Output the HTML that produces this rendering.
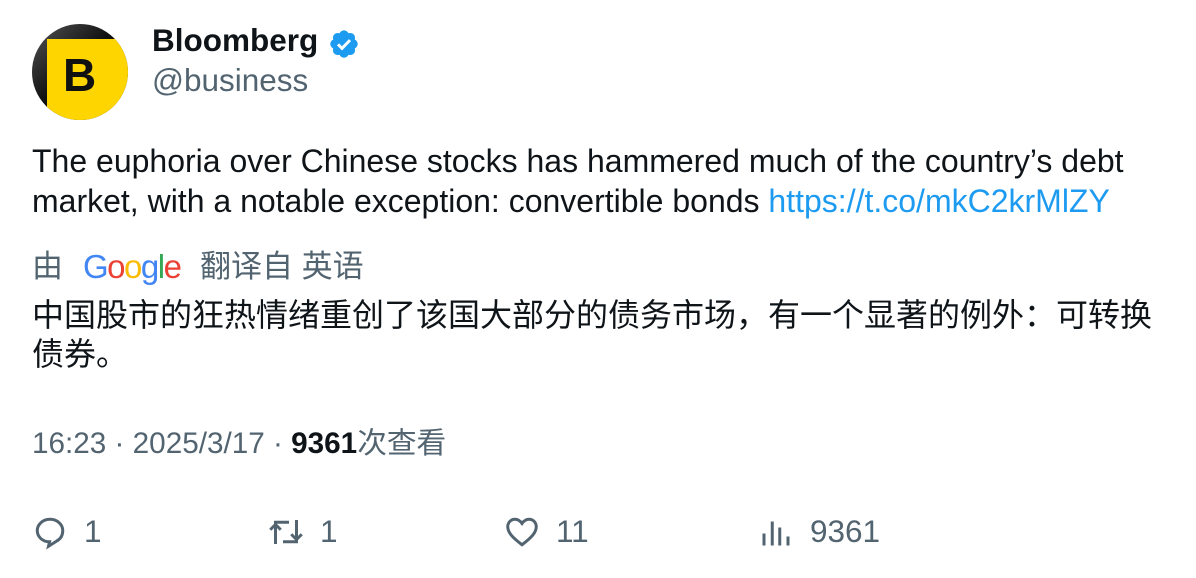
<!DOCTYPE html>
<html><head><meta charset="utf-8"><style>
body{margin:0;width:1196px;height:578px;background:#fff;font-family:"Liberation Sans","Noto Sans CJK SC",sans-serif;color:#0f1419;position:relative;overflow:hidden}
.a{position:absolute;white-space:nowrap}
.g{color:#536471}
</style></head><body>
<div class="a" style="left:32px;top:24px;width:96px;height:96px;border-radius:50%;overflow:hidden;background:linear-gradient(135deg,#555,#111 45%)">
<div style="position:absolute;left:15px;top:15px;width:90px;height:90px;background:#ffd500"></div>
<div style="position:absolute;left:31px;top:24px;font:bold 46px 'Liberation Sans',sans-serif;color:#111">B</div>
</div>
<div class="a" style="left:152px;top:22px;font-size:31.5px;font-weight:bold">Bloomberg</div>
<svg class="a" style="left:328px;top:28px" width="32" height="32" viewBox="0 0 24 24"><path fill="#1d9bf0" d="M22.25 12c0-1.430-.88-2.67-2.19-3.34.46-1.39.2-2.9-.81-3.91s-2.52-1.27-3.91-.81c-.66-1.31-1.910-2.19-3.34-2.19s-2.67.88-3.33 2.19c-1.4-.46-2.91-.2-3.92.81s-1.26 2.52-.8 3.91c-1.31.67-2.2 1.91-2.2 3.34s.89 2.67 2.2 3.34c-.46 1.39-.21 2.9.8 3.91s2.52 1.26 3.91.81c.67 1.31 1.91 2.19 3.34 2.19s2.68-.88 3.34-2.19c1.39.45 2.9.2 3.91-.81s1.27-2.52.81-3.91c1.31-.67 2.19-1.91 2.19-3.34z"/><path d="M7.5 12.3l3 3 6-6.2" stroke="#fff" stroke-width="2.2" fill="none"/></svg>
<div class="a g" style="left:152px;top:62px;font-size:31.5px">@business</div>
<div class="a" style="left:32px;top:141px;font-size:32px;line-height:40px">The euphoria over Chinese stocks has hammered much of the country’s debt<br>market, with a notable exception: convertible bonds <span style="color:#1d9bf0">https://t.co/mkC2krMlZY</span></div>
<div class="a g" style="left:32px;top:247px;font-size:31px;line-height:40px">由</div>
<div class="a" style="left:83px;top:247px;font-size:33px;line-height:40px;letter-spacing:-1.5px"><span style="color:#4285f4">G</span><span style="color:#ea4335">o</span><span style="color:#fbbc05">o</span><span style="color:#4285f4">g</span><span style="color:#34a853">l</span><span style="color:#ea4335">e</span></div>
<div class="a g" style="left:200px;top:247px;font-size:31px;line-height:40px">翻译自 英语</div>
<div class="a" style="left:32px;top:296px;font-size:32px;line-height:39px">中国股市的狂热情绪重创了该国大部分的债务市场，有一个显著的例外：可转换<br>债券。</div>
<div class="a g" style="left:32px;top:424px;font-size:29.7px;line-height:40px">16:23 · 2025/3/17 · <b style="color:#0f1419">9361</b>次查看</div>
<svg class="a" style="left:32px;top:514px" width="36" height="36" viewBox="0 0 24 24"><path fill="none" stroke="#536471" stroke-width="2" d="M12 3.5c-4.7 0-8.5 3.4-8.5 7.5 0 4.2 3.6 7.6 8.2 7.5L11 21.5l5.5-3.5c2.6-1.4 4-4 4-7 0-4.1-3.8-7.5-8.5-7.5z"/></svg>
<div class="a g" style="left:84px;top:513px;font-size:31.5px">1</div>
<svg class="a" style="left:268px;top:514px" width="36" height="36" viewBox="0 0 24 24"><path fill="none" stroke="#536471" stroke-width="2" d="M5 20V7M1.5 10.5L5 7l3.5 3.5M5 7V5.5h9M19 4v13M15.5 13.5L19 17l3.5-3.5M19 17v1.5h-9"/></svg>
<div class="a g" style="left:320px;top:513px;font-size:31.5px">1</div>
<svg class="a" style="left:504px;top:514px" width="36" height="36" viewBox="0 0 24 24"><path fill="none" stroke="#536471" stroke-width="2" d="M12 20.5C6 16 2.5 12.5 2.5 8.5 2.5 5.5 4.8 3.5 7.3 3.5c2 0 3.5 1.1 4.7 2.8 1.2-1.7 2.7-2.8 4.7-2.8 2.5 0 4.8 2 4.8 5 0 4-3.5 7.5-9.5 12z"/></svg>
<div class="a g" style="left:556px;top:513px;font-size:31.5px">11</div>
<svg class="a" style="left:758px;top:514px" width="36" height="36" viewBox="0 0 24 24"><path stroke="#536471" stroke-width="2" d="M4 21v-8M9.5 21V5M14.5 21v-12M20 21v-6"/></svg>
<div class="a g" style="left:810px;top:513px;font-size:31.5px">9361</div>
</body></html>
